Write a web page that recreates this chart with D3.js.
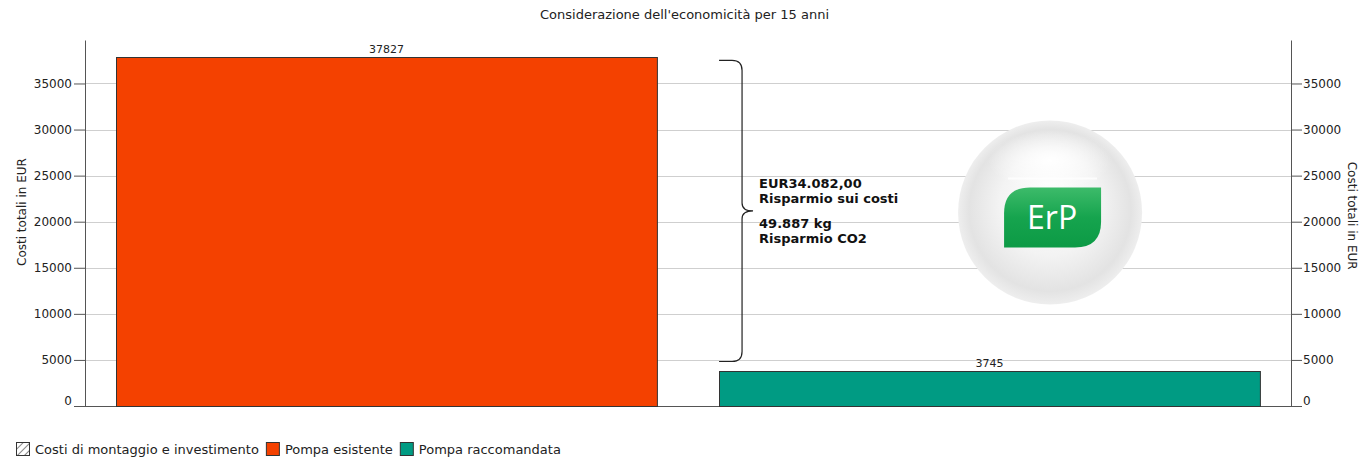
<!DOCTYPE html>
<html>
<head>
<meta charset="utf-8">
<script src="https://cdn.jsdelivr.net/npm/d3@7"></script>
<style>
  body { margin: 0; background: #fff; }
  svg text { font-family: "DejaVu Sans", Verdana, sans-serif; fill: #222; }
  .grid line { stroke: #cfcfcf; }
  .axis path, .axis line { stroke: #555; }
  .axis text { font-size: 12px; fill: #222; }
</style>
</head>
<body>
<div id="chart"></div>
<script>
var chartTitle = "Considerazione dell'economicità per 15 anni"
var axisLabel = 'Costi totali in EUR'
var categories = ['Pompa esistente', 'Pompa raccomandata']
var totals = [37827, 3745]
var barColors = ['#f44100', '#009b83']
var yTicks = [0, 5000, 10000, 15000, 20000, 25000, 30000, 35000]
var legendNames = ['Costi di montaggio e investimento', 'Pompa esistente', 'Pompa raccomandata']
var savingLines = [['EUR34.082,00', 'Risparmio sui costi'], ['49.887 kg', 'Risparmio CO2']]

var W = 1369, H = 459
var margin = { top: 40, right: 78, bottom: 53, left: 85 }
var width = W - margin.left - margin.right
var height = H - margin.top - margin.bottom

var svg = d3.select('#chart').append('svg')
  .attr('width', W)
  .attr('height', H)

var defs = svg.append('defs')

// hatch for legend
var hatch = defs.append('pattern')
  .attr('id', 'hatch')
  .attr('patternUnits', 'userSpaceOnUse')
  .attr('width', 5).attr('height', 5)
  .attr('patternTransform', 'rotate(45)')
hatch.append('line')
  .attr('x1', 0).attr('y1', 0).attr('x2', 0).attr('y2', 5)
  .attr('stroke', '#333').attr('stroke-width', 1.2)

var x = d3.scaleBand()
  .domain(categories)
  .range([0, width])
  .paddingInner(0.103)
  .paddingOuter(0.0515)

var y = d3.scaleLinear()
  .domain([0, d3.max(totals) * 1.05])
  .range([height, 0])

var g = svg.append('g')
  .attr('transform', 'translate(' + margin.left + ',' + margin.top + ')')

// title
svg.append('text')
  .attr('x', W / 2)
  .attr('y', 19)
  .attr('text-anchor', 'middle')
  .style('font-size', '13px')
  .text(chartTitle)

// gridlines
g.append('g')
  .classed('grid', true)
  .selectAll('line')
  .data(yTicks.filter(function (d) { return d > 0 }))
  .enter().append('line')
  .attr('x1', 0).attr('x2', width)
  .attr('y1', function (d) { return Math.round(y(d)) + 0.5 })
  .attr('y2', function (d) { return Math.round(y(d)) + 0.5 })

// axes
var fmt = d3.format('d')
var leftAxis = g.append('g')
  .classed('axis', true)
  .call(d3.axisLeft(y).tickValues(yTicks).tickFormat(fmt).tickSize(11).tickPadding(2).tickSizeOuter(0))
var rightAxis = g.append('g')
  .classed('axis', true)
  .attr('transform', 'translate(' + width + ',0)')
  .call(d3.axisRight(y).tickValues(yTicks).tickFormat(fmt).tickSize(11).tickPadding(1).tickSizeOuter(0))

;[leftAxis, rightAxis].forEach(function (a) {
  a.selectAll('.tick text')
    .attr('dy', function (d) { return d === 0 ? '-0.15em' : '0.32em' })
})

// baseline
g.append('line')
  .attr('x1', 0).attr('x2', width)
  .attr('y1', height + 0.5).attr('y2', height + 0.5)
  .attr('stroke', '#555')

// axis titles
svg.append('text')
  .attr('transform', 'translate(26,' + (margin.top + height * 0.47) + ') rotate(-90)')
  .attr('text-anchor', 'middle')
  .style('font-size', '12px')
  .text(axisLabel)
svg.append('text')
  .attr('transform', 'translate(1348,' + (margin.top + height * 0.48) + ') rotate(90)')
  .attr('text-anchor', 'middle')
  .style('font-size', '12px')
  .text(axisLabel)

// bars
g.selectAll('.bar')
  .data(totals)
  .enter().append('rect')
  .attr('class', 'bar')
  .attr('x', function (d, i) { return Math.round(x(categories[i])) + 0.5 })
  .attr('y', function (d) { return Math.round(y(d)) + 0.5 })
  .attr('width', x.bandwidth())
  .attr('height', function (d) { return height - Math.round(y(d)) })
  .attr('fill', function (d, i) { return barColors[i] })
  .attr('stroke', '#333')

g.selectAll('.val')
  .data(totals)
  .enter().append('text')
  .attr('class', 'val')
  .attr('x', function (d, i) { return x(categories[i]) + x.bandwidth() / 2 })
  .attr('y', function (d) { return y(d) - 4 })
  .attr('text-anchor', 'middle')
  .style('font-size', '11px')
  .text(function (d) { return d })

// brace showing the saving
var bx0 = x(categories[1])
var bx1 = bx0 + 23
var braceTop = y(totals[0]) + 3
var braceBot = y(totals[1]) - 10
var mid = (braceTop + braceBot) / 2
var r = 10
var brace = d3.path()
brace.moveTo(bx0, braceTop)
brace.lineTo(bx1 - r, braceTop)
brace.quadraticCurveTo(bx1, braceTop, bx1, braceTop + r)
brace.lineTo(bx1, mid - 8)
brace.quadraticCurveTo(bx1, mid, bx1 + 11, mid)
brace.quadraticCurveTo(bx1, mid, bx1, mid + 8)
brace.lineTo(bx1, braceBot - r)
brace.quadraticCurveTo(bx1, braceBot, bx1 - r, braceBot)
brace.lineTo(bx0, braceBot)
g.append('path')
  .attr('d', brace.toString())
  .attr('fill', 'none')
  .attr('stroke', '#222')
  .attr('stroke-width', 1.2)

var note = g.append('g')
  .attr('transform', 'translate(' + (bx0 + 40) + ',' + (mid - 23) + ')')
savingLines.forEach(function (pair, i) {
  pair.forEach(function (s, j) {
    note.append('text')
      .attr('y', i * 40 + j * 15)
      .style('font-size', '13px')
      .style('font-weight', 'bold')
      .style('fill', '#111')
      .text(s)
  })
})

// ErP badge
var sg = defs.append('radialGradient')
  .attr('id', 'sphere')
  .attr('cx', '50%').attr('cy', '50%').attr('r', '50%')
  .attr('fx', '50%').attr('fy', '40%')
sg.append('stop').attr('offset', '0%').attr('stop-color', '#ffffff')
sg.append('stop').attr('offset', '55%').attr('stop-color', '#f3f3f3')
sg.append('stop').attr('offset', '88%').attr('stop-color', '#e3e3e3')
sg.append('stop').attr('offset', '100%').attr('stop-color', '#eeeeee')

var hl = defs.append('radialGradient')
  .attr('id', 'shine')
hl.append('stop').attr('offset', '0%').attr('stop-color', '#fff').attr('stop-opacity', 1)
hl.append('stop').attr('offset', '100%').attr('stop-color', '#fff').attr('stop-opacity', 0)

var gg = defs.append('linearGradient')
  .attr('id', 'green')
  .attr('x1', 0).attr('y1', 0).attr('x2', 0).attr('y2', 1)
gg.append('stop').attr('offset', '0%').attr('stop-color', '#3dbb6a')
gg.append('stop').attr('offset', '50%').attr('stop-color', '#16a44e')
gg.append('stop').attr('offset', '100%').attr('stop-color', '#0c9a45')

var cx = bx0 + x.bandwidth() * 0.612
var cy = y(21000)
var badge = g.append('g').attr('transform', 'translate(' + cx + ',' + cy + ')')
badge.append('circle').attr('r', 92).attr('fill', 'url(#sphere)')
badge.append('ellipse')
  .attr('cy', -52).attr('rx', 62).attr('ry', 30)
  .attr('fill', 'url(#shine)')

var lw = 97, lh = 60, lr = 26
var leaf = d3.path()
leaf.moveTo(-46, -25 + lr)
leaf.quadraticCurveTo(-46, -25, -46 + lr, -25)
leaf.lineTo(-46 + lw, -25)
leaf.lineTo(-46 + lw, -25 + lh - lr)
leaf.quadraticCurveTo(-46 + lw, -25 + lh, -46 + lw - lr, -25 + lh)
leaf.lineTo(-46, -25 + lh)
leaf.closePath()
badge.append('path').attr('d', leaf.toString()).attr('fill', 'url(#green)')
badge.append('line')
  .attr('x1', -42).attr('x2', 47).attr('y1', -34).attr('y2', -34)
  .attr('stroke', '#fff').attr('stroke-width', 2).attr('opacity', 0.8)
badge.append('text')
  .attr('x', 2).attr('y', 17)
  .attr('text-anchor', 'middle')
  .style('font-family', '"Open Sans", sans-serif')
  .style('font-size', '32px')
  .style('fill', '#fff')
  .text('ErP')

// legend
var legend = svg.append('g').attr('transform', 'translate(16,442)')
var lx = 0
legendNames.forEach(function (name, i) {
  var item = legend.append('g').attr('transform', 'translate(' + lx + ',0)')
  item.append('rect')
    .attr('x', 0.5).attr('y', 0.5)
    .attr('width', 13).attr('height', 13)
    .attr('fill', i === 0 ? 'url(#hatch)' : barColors[i - 1])
    .attr('stroke', '#333')
  var t = item.append('text')
    .attr('x', 19).attr('y', 12)
    .style('font-size', '13px')
    .text(name)
  lx += 19 + t.node().getComputedTextLength() + 7
})
</script>
</body>
</html>
